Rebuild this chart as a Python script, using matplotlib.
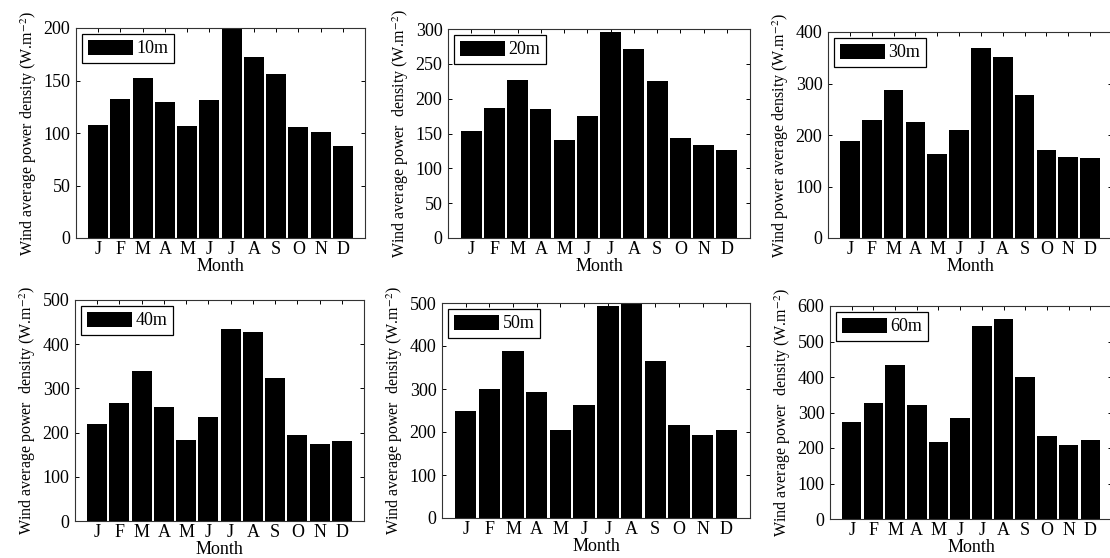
import matplotlib
matplotlib.use("Agg")
import matplotlib.pyplot as plt
import numpy as np

plt.rcParams['font.family'] = ['Liberation Serif', 'DejaVu Serif']
plt.rcParams['mathtext.fontset'] = 'stix'

meses = ['J', 'F', 'M', 'A', 'M', 'J', 'J', 'A', 'S', 'O', 'N', 'D']

# valores (W/m2)
v10 = [108, 132, 152, 130, 107, 131, 200, 172, 156, 106, 101, 88]
v20 = [154, 187, 227, 185, 141, 175, 295, 271, 225, 143, 133, 126]
v30 = [189, 229, 288, 225, 164, 209, 368, 352, 277, 171, 158, 155]
v40 = [219, 266, 340, 259, 184, 236, 434, 427, 323, 194, 175, 180]
v50 = [249, 299, 389, 292, 204, 262, 492, 500, 366, 217, 194, 204]
v60 = [273, 328, 433, 320, 218, 284, 545, 563, 401, 235, 208, 223]

alturas = ['10m', '20m', '30m', '40m', '50m', '60m']
series = [v10, v20, v30, v40, v50, v60]
ylims = [200, 300, 400, 500, 500, 600]
ypassos = [50, 50, 100, 100, 100, 100]
ylabels = [
    'Wind average power density (W.m$^{-2}$)',
    'Wind average power  density (W.m$^{-2}$)',
    'Wind power average density (W.m$^{-2}$)',
    'Wind average power  density (W.m$^{-2}$)',
    'Wind average power  density (W.m$^{-2}$)',
    'Wind average power  density (W.m$^{-2}$)',
]

# caixas dos eixos em pixels (x0, x1, y_topo, y_base)
caixas = [
    (76, 365, 28, 238),
    (448, 750, 29, 238),
    (828, 1112, 32, 238),
    (75, 364, 300, 521),
    (442, 750, 303, 518),
    (830, 1112, 306, 519),
]

W, H = 1110, 558
fig = plt.figure(figsize=(W / 100, H / 100), dpi=100)

fs = 13
x = np.arange(1, 13)
for i in range(6):
    x0, x1, yt, yb = caixas[i]
    ax = fig.add_axes([x0 / W, (H - yb) / H, (x1 - x0) / W, (yb - yt) / H])
    ax.bar(x, series[i], width=0.9, color='black', label=alturas[i])
    ax.set_xlim(0, 13)
    ax.set_ylim(0, ylims[i])
    ax.set_xticks(x)
    ax.set_xticklabels(meses)
    ax.set_yticks(np.arange(0, ylims[i] + 1, ypassos[i]))
    ax.tick_params(direction='in', top=True, right=True, length=3, width=0.7,
                   labelsize=fs)
    ax.tick_params(axis='x', pad=2)
    ax.tick_params(axis='y', pad=4)
    for s in ax.spines.values():
        s.set_linewidth(0.8)
        s.set_color('#333333')
    ax.set_xlabel('Month', fontsize=fs, labelpad=0.5)
    ax.set_ylabel(ylabels[i], fontsize=11.5, labelpad=3)
    leg = ax.legend(loc='upper left', fontsize=fs, handlelength=2.5, handleheight=0.9,
                    fancybox=False, framealpha=1, edgecolor='black',
                    borderaxespad=0.35, borderpad=0.3, handletextpad=0.2)
    leg.get_frame().set_linewidth(0.9)

fig.savefig('out.png', dpi=100)
